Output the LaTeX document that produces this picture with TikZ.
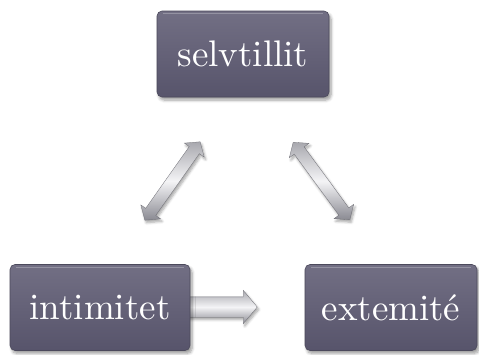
\documentclass[tikz,border=0pt]{standalone}
\usepackage{fontspec}
\newfontfamily\boxfont{lmroman10-regular.otf}
\usetikzlibrary{shapes.arrows,shadows.blur}
\definecolor{boxtop}{HTML}{726F84}
\definecolor{boxbot}{HTML}{57546B}
\definecolor{boxedge}{HTML}{4C4A5C}
\definecolor{arrlight}{HTML}{F4F4F6}
\definecolor{arrmid}{HTML}{A8A8AE}
\definecolor{arrdark}{HTML}{8A8A92}
\tikzset{
  termbox/.style={rectangle, rounded corners=5pt, draw=boxedge, line width=0.6pt,
    top color=boxtop, bottom color=boxbot, text=white,
    font=\boxfont\fontsize{37}{41}\selectfont, inner sep=0pt,
    blur shadow={shadow xshift=2pt, shadow yshift=-3pt, shadow blur steps=6,
      shadow blur radius=3pt, shadow opacity=40}},
  blockarrow/.style={draw=arrdark!80!black, line width=0.3pt,
    top color=arrmid, bottom color=arrdark, middle color=arrlight,
    inner xsep=0pt,
    blur shadow={shadow xshift=1.5pt, shadow yshift=-2.5pt, shadow blur steps=5,
      shadow blur radius=2.5pt, shadow opacity=35}},
  twoway/.style={blockarrow, double arrow, inner ysep=6pt, minimum height=96pt,
    double arrow head extend=6pt, double arrow tip angle=100},
  oneway/.style={blockarrow, single arrow, inner ysep=10pt, minimum height=70pt,
    single arrow head extend=6.5pt, single arrow tip angle=100}
}
\begin{document}
\begin{tikzpicture}[x=1pt,y=-1pt]
  \useasboundingbox (0,0) rectangle (479,354);

  % connecting block arrows (drawn first, boxes sit on top)
  \node[twoway, rotate=54.8] (leftarrow) at (172.5,181) {};
  \node[twoway, rotate=-53.8] (rightarrow) at (321.5,181) {};
  \node[oneway] (bottomarrow) at (218,307) {};

  % the three boxes
  \node[termbox, minimum width=172pt, minimum height=86pt] (selv) at (243,54) {selvtillit};
  \node[termbox, minimum width=180pt, minimum height=86pt] (inti) at (100,307.5) {intimitet};
  \node[termbox, minimum width=172pt, minimum height=86pt] (exte) at (391,307.5) {extemité};

  % soft highlight along the top edge of each box
  \foreach \b in {selv,inti,exte}{
    \draw[white, opacity=0.25, line width=1.2pt]
      ([xshift=6pt,yshift=-3pt]\b.north west) -- ([xshift=-6pt,yshift=-3pt]\b.north east);
  }
\end{tikzpicture}
\end{document}
